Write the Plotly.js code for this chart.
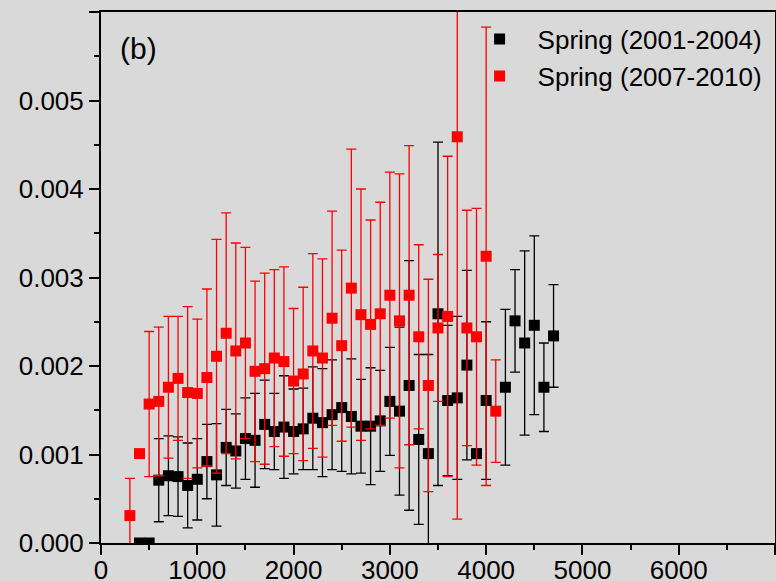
<!DOCTYPE html>
<html>
<head>
<meta charset="utf-8">
<script src="https://cdn.plot.ly/plotly-3.0.1.min.js"></script>
<style>html,body{margin:0;padding:0;background:#d9d9d9;}#chart{width:776px;height:581px;}</style>
</head>
<body>
<div id="chart"></div>
<script>
// Spring (2001-2004)
const xBlack = [400,500,600,700,800,900,1000,1100,1200,1300,1400,1500,1600,1700,1800,1900,2000,2100,2200,2300,2400,2500,2600,2700,2800,2900,3000,3100,3200,3300,3400,3500,3600,3700,3800,3900,4000,4200,4300,4400,4500,4600,4700];
const yBlack = [0,0,0.00071,0.00076,0.00075,0.00065,0.00072,0.00092,0.00077,0.00108,0.00104,0.00118,0.00116,0.00134,0.00126,0.00131,0.00126,0.00129,0.00141,0.00136,0.00145,0.00153,0.00143,0.00132,0.00132,0.00138,0.00160,0.00149,0.00178,0.00117,0.00101,0.00259,0.00161,0.00164,0.00201,0.00101,0.00161,0.00176,0.00251,0.00226,0.00246,0.00176,0.00234];
const eBlack = [0,0,0.00047,0.00045,0.00045,0.00048,0.00046,0.00042,0.00058,0.00043,0.00042,0.00046,0.00053,0.00050,0.00043,0.00058,0.00048,0.00046,0.00058,0.00061,0.00062,0.00072,0.00065,0.00053,0.00066,0.00057,0.00061,0.00095,0.00141,0.00096,0.00112,0.00194,0.00085,0.00092,0.00107,0,0.00089,0.00088,0.00058,0.00104,0.00101,0.00050,0.00058];

// Spring (2007-2010)
const xRed = [300,400,500,600,700,800,900,1000,1100,1200,1300,1400,1500,1600,1700,1800,1900,2000,2100,2200,2300,2400,2500,2600,2700,2800,2900,3000,3100,3200,3300,3400,3500,3600,3700,3800,3900,4000,4100];
const yRed = [0.00031,0.00101,0.00157,0.00160,0.00176,0.00186,0.00170,0.00169,0.00187,0.00211,0.00237,0.00217,0.00226,0.00194,0.00197,0.00209,0.00205,0.00183,0.00191,0.00217,0.00209,0.00254,0.00223,0.00288,0.00258,0.00247,0.00259,0.00280,0.00251,0.00280,0.00233,0.00178,0.00243,0.00256,0.00459,0.00243,0.00233,0.00324,0.00149];
const eRed = [0.00042,0,0.00082,0.00084,0.00080,0.00070,0.00097,0.00084,0.00100,0.00132,0.00136,0.00122,0.00108,0.00102,0.00108,0.00100,0.00107,0.00082,0.00098,0.00110,0.00112,0.00121,0.00108,0.00157,0.00142,0.00118,0.00126,0.00139,0.00166,0.00169,0.00104,0.00120,0.00083,0.00181,0.00432,0.00133,0.00145,0.00259,0.00058];

const seriesNames = ['Spring (2001-2004)', 'Spring (2007-2010)'];
const xTickVals = [0,1000,2000,3000,4000,5000,6000,7000];
const xTickText = ['0','1000','2000','3000','4000','5000','6000',''];
const yTickVals = [0,0.001,0.002,0.003,0.004,0.005,0.006];
const yTickText = ['0.000','0.001','0.002','0.003','0.004','0.005',''];
const panelLabel = '(b)';

const FONT = 'Liberation Sans, Arial, sans-serif';

const traces = [
  {
    x: xBlack, y: yBlack, name: seriesNames[0], type: 'scatter', mode: 'markers',
    marker: {symbol: 'square', size: 11, color: '#000000'},
    error_y: {type: 'data', array: eBlack, visible: true, color: '#000000', thickness: 1.3, width: 5}
  },
  {
    x: xRed, y: yRed, name: seriesNames[1], type: 'scatter', mode: 'markers',
    marker: {symbol: 'square', size: 11, color: '#ff0000'},
    error_y: {type: 'data', array: eRed, visible: true, color: '#ff0000', thickness: 1.3, width: 5}
  }
];

const axisCommon = {
  showgrid: false, zeroline: false, showline: true, linecolor: '#000', linewidth: 2,
  mirror: true, ticks: 'outside', ticklen: 10, tickwidth: 2, tickcolor: '#000',
  tickfont: {family: FONT, size: 26, color: '#000'}, tickmode: 'array'
};

const layout = {
  width: 776, height: 581,
  margin: {l: 101, r: 1, t: 12, b: 38, pad: 0},
  paper_bgcolor: '#d9d9d9', plot_bgcolor: '#d9d9d9',
  showlegend: true,
  legend: {
    x: 0.535, y: 0.993, xanchor: 'left', yanchor: 'top',
    bgcolor: 'rgba(0,0,0,0)', borderwidth: 0,
    font: {family: FONT, size: 26, color: '#000'},
    itemwidth: 66, tracegroupgap: 0
  },
  xaxis: Object.assign({}, axisCommon, {
    range: [0, 7000], tickvals: xTickVals, ticktext: xTickText, ticklabelstandoff: -7,
    minor: {tickmode: 'linear', tick0: 0, dtick: 500, ticks: 'outside', ticklen: 5, tickwidth: 2, tickcolor: '#000'}
  }),
  yaxis: Object.assign({}, axisCommon, {
    range: [0, 0.006], tickvals: yTickVals, ticktext: yTickText,
    minor: {tickmode: 'linear', tick0: 0, dtick: 0.0005, ticks: 'outside', ticklen: 5, tickwidth: 2, tickcolor: '#000'}
  }),
  annotations: [{
    text: panelLabel, xref: 'paper', yref: 'paper', x: 0.055, y: 0.931,
    xanchor: 'center', yanchor: 'middle', showarrow: false,
    font: {family: FONT, size: 30, color: '#000'}
  }]
};

Plotly.newPlot('chart', traces, layout, {displayModeBar: false, staticPlot: true});
</script>
</body>
</html>
